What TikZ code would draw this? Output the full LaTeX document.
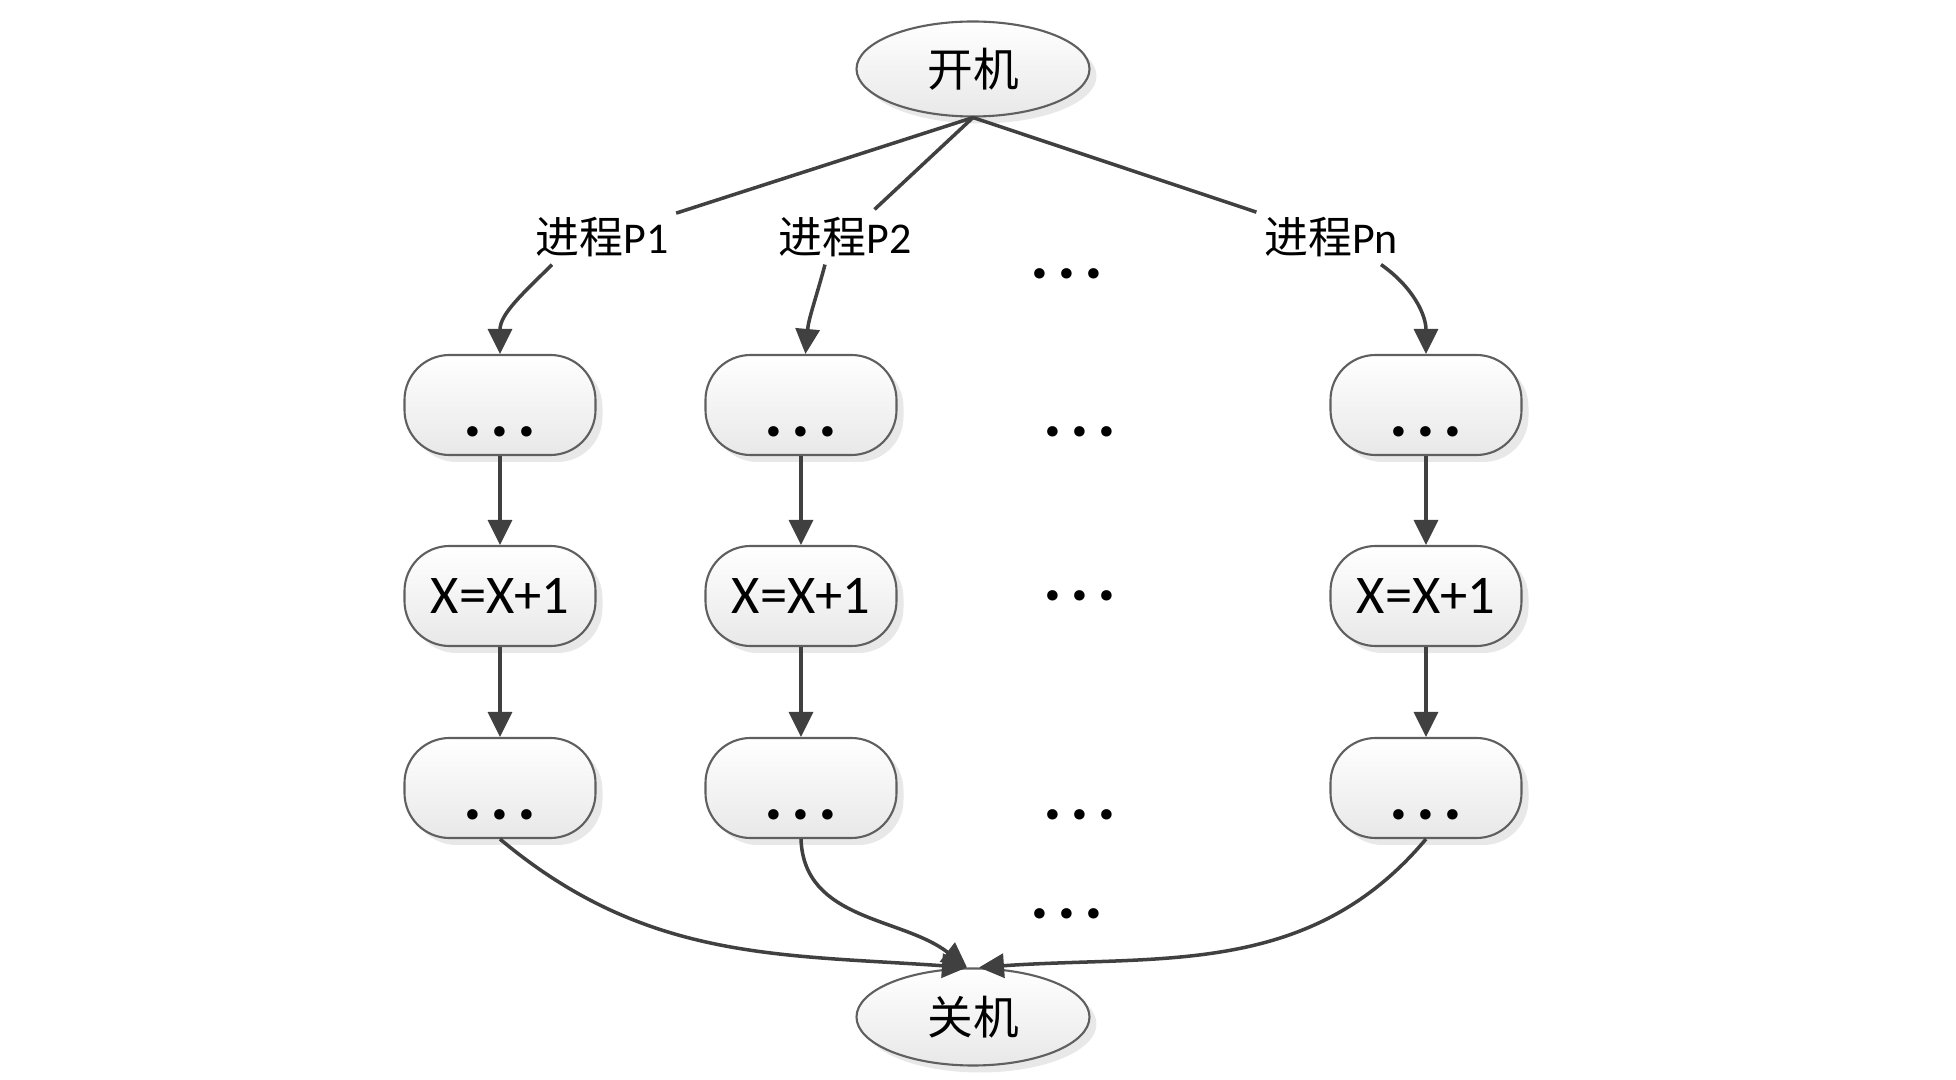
\documentclass[tikz,border=0pt]{standalone}
\usepackage{fontspec}
\setmainfont{Carlito}
\newfontfamily\cjk{Noto Sans CJK SC}
\usetikzlibrary{arrows.meta,shapes.geometric,shadows}
\definecolor{ink}{RGB}{64,64,64}
\definecolor{rim}{RGB}{95,95,95}
\newcommand\dotrow{\textbf{.\kern2.4pt.\kern2.4pt.}}
\tikzset{
  >={Triangle[length=2.5mm,width=2.4mm]},
  proc/.style={draw=rim,line width=0.6pt,rounded corners=4.5mm,top color=white,bottom color=black!9,
    minimum width=19.1mm,minimum height=10mm,font=\fontsize{15.5}{18}\selectfont,
    drop shadow={opacity=0.18,shadow xshift=0.7mm,shadow yshift=-0.7mm}},
  gapbox/.style={proc,font=\fontsize{20}{22}\selectfont,text height=6.4mm,text depth=0pt},
  gap/.style={font=\fontsize{20}{22}\selectfont,text height=6.4mm,text depth=0pt},
  gapmid/.style={font=\fontsize{20}{22}\selectfont},
  term/.style={ellipse,draw=rim,line width=0.6pt,top color=white,bottom color=black!9,
    minimum width=23.3mm,minimum height=9.5mm,inner sep=0pt,font=\cjk\fontsize{13}{15}\selectfont,
    drop shadow={opacity=0.18,shadow xshift=0.7mm,shadow yshift=-0.7mm}},
  tag/.style={font=\fontsize{12.5}{15}\selectfont,inner sep=2pt},
  flow/.style={->,draw=ink,line width=1pt},
  wire/.style={draw=ink,line width=1pt},
}
\begin{document}
\begin{tikzpicture}
  \useasboundingbox (0,0) rectangle (19.56,-10.80);
  % start and end
  \node[term] (on) at (9.73,-0.69) {开机};
  \node[term,minimum height=9.7mm] (off) at (9.73,-10.17) {关机};
  % process labels
  \node[tag] (p1) at (6.02,-2.37) {{\cjk 进程}P1};
  \node[tag] (p2) at (8.45,-2.37) {{\cjk 进程}P2};
  \node[tag] (pn) at (13.31,-2.37) {{\cjk 进程}Pn};
  \node[gapmid] (tm) at (10.67,-2.74) {\dotrow};
  % columns
  \node[gapbox] (a1) at (5.00,-4.05) {\dotrow};
  \node[proc] (b1) at (5.00,-5.96) {X=X+1};
  \node[gapbox] (c1) at (5.00,-7.88) {\dotrow};
  \node[gapbox] (a2) at (8.01,-4.05) {\dotrow};
  \node[proc] (b2) at (8.01,-5.96) {X=X+1};
  \node[gapbox] (c2) at (8.01,-7.88) {\dotrow};
  \node[gapbox] (an) at (14.26,-4.05) {\dotrow};
  \node[proc] (bn) at (14.26,-5.96) {X=X+1};
  \node[gapbox] (cn) at (14.26,-7.88) {\dotrow};
  \node[gap] (am) at (10.80,-4.05) {\dotrow};
  \node[gapmid] (bm) at (10.80,-5.96) {\dotrow};
  \node[gap] (cm) at (10.80,-7.88) {\dotrow};
  \node[gapmid] (dm) at (10.67,-9.14) {\dotrow};
  % connectors
  \draw[wire] (on.south) -- (p1);
  \draw[wire] (on.south) -- (p2);
  \draw[wire] (on.south) -- (pn);
  \draw[flow] ([xshift=-5mm]p1.south) to[out=-135,in=90] (a1);
  \draw[flow] ([xshift=-2mm]p2.south) to[out=-105,in=85] (a2);
  \draw[flow] ([xshift=5mm]pn.south) to[out=-35,in=90] (an);
  \foreach \c in {1,2,n} {
    \draw[flow] (a\c) -- (b\c);
    \draw[flow] (b\c) -- (c\c);
  }
  \draw[flow] (c1.south) to[out=-40,in=176] ([xshift=-0.6mm]off.north);
  \draw[flow] (c2.south) to[out=-88,in=142] ([xshift=-0.6mm]off.north);
  \draw[flow] (cn.south) to[out=-130,in=4] ([xshift=0.6mm]off.north);
\end{tikzpicture}
\end{document}
